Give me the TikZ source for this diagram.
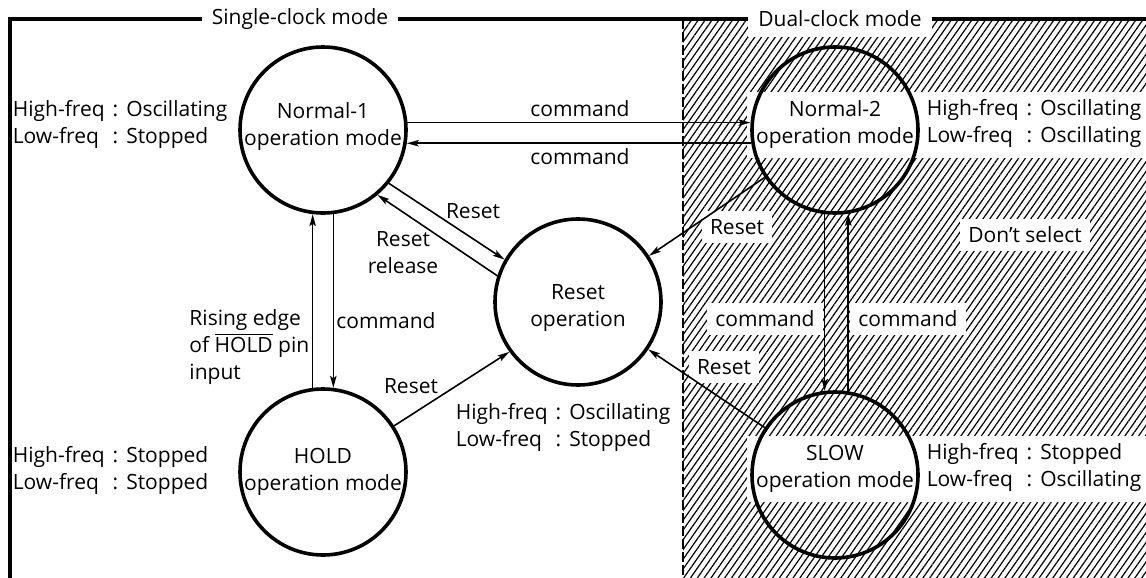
\documentclass[tikz,border=0pt]{standalone}
\usepackage{fontspec}
\setmainfont{Open Sans}
\usetikzlibrary{arrows.meta,patterns.meta,backgrounds}

\begin{document}
\begin{tikzpicture}[x=0.5pt, y=-0.5pt, thick, font=\fontsize{10.5}{13.5}\selectfont,
  main/.style = {circle, draw, line width=1.8pt, minimum size=83pt, inner sep=0pt},
  txt/.style = {align=center, inner sep=4pt},
  freq/.style = {anchor=west, inner sep=3pt},
  lbl/.style = {fill=white, inner sep=4pt},
  arr/.style = {-{Stealth[length=6pt,width=3.2pt,inset=1.2pt]}}]
\useasboundingbox (0,0) rectangle (1146,578);

% frame and mode regions
\draw[line width=1.6pt] (10,578) -- (10,19) -- (1146,19);
\draw[line width=1.1pt, dash pattern=on 5pt off 1.5pt] (683,19) -- (683,578);
\node[fill=white, inner sep=5pt] (sc) at (300,19) {Single-clock mode};
\node[fill=white, inner sep=5pt] (dc) at (840,19) {Dual-clock mode};

% operation modes
\node[main] (1) at (323,130) {};
\node[main] (2) [right of=1, node distance=256pt] {};
\node[main] (3) at (578,302) {};
\node[main] (4) [below of=1, node distance=171pt] {};
\node[main] (5) [below of=2, node distance=172.5pt] {};

\node[txt] (t1) at ([yshift=1.7pt]1) {Normal-1\\operation mode};
\node[txt] (t2) at ([yshift=2.7pt]2) {Normal-2\\operation mode};
\node[txt] (t3) at ([yshift=-3.2pt]3) {Reset\\operation};
\node[txt] (t4) at ([yshift=-0.2pt]4) {HOLD\\operation mode};
\node[txt] (t5) at ([yshift=3.2pt]5) {SLOW\\operation mode};

% clock states
\node[freq] (f1) at (6,125) {\begin{tabular}{@{}l@{\hspace{4pt}:\hspace{4pt}}l@{}}High-freq & Oscillating\\Low-freq & Stopped\end{tabular}};
\node[freq] (f2) at (920,124) {\begin{tabular}{@{}l@{\hspace{4pt}:\hspace{4pt}}l@{}}High-freq & Oscillating\\Low-freq & Oscillating\end{tabular}};
\node[freq] (f3) at (449,428) {\begin{tabular}{@{}l@{\hspace{4pt}:\hspace{4pt}}l@{}}High-freq & Oscillating\\Low-freq & Stopped\end{tabular}};
\node[freq] (f4) at (6,471) {\begin{tabular}{@{}l@{\hspace{4pt}:\hspace{4pt}}l@{}}High-freq & Stopped\\Low-freq & Stopped\end{tabular}};
\node[freq] (f5) at (920,468) {\begin{tabular}{@{}l@{\hspace{4pt}:\hspace{4pt}}l@{}}High-freq & Stopped\\Low-freq & Oscillating\end{tabular}};

% labels
\node (c1) at (580,109) {command};
\node (c2) at (580,157) {command};
\node[align=left, anchor=west] (re) at (182,347) {Rising edge\\of $\overline{\mbox{HOLD}}$ pin\\input};
\node (c3) at (386,321) {command};
\node (r1) at (473,211) {Reset};
\node[align=center] (rr) at (403,253) {Reset\\release};
\node (r2) at (411,386) {Reset};
\node[lbl] (r3) at (737,227) {Reset};
\node[lbl] (r4) at (724,367) {Reset};
\node[lbl] (c4) at (765,319) {command};
\node[lbl] (c5) at (908,319) {command};
\node[lbl] (ds) at (1025,235) {Don't select};

% transitions
\draw[arr] (1.5) -- (2.175);
\draw[arr] (2.189) -- (1.-9);
\draw[arr] (4.97) -- (1.-97);
\draw[arr] (1.-83) -- (4.83);
\draw[arr] (1.-39) -- (3.150);
\draw[arr] (3.162) -- (1.-50);
\draw[arr] (4.33) -- (3.216);
\draw[arr] (2.214) -- (3.33);
\draw[arr] (5.146) -- (3.-34);
\draw[arr] (2.-97) -- (5.97);
\draw[arr] (5.81) -- (2.-81);

% hatched dual-clock area
\begin{scope}[on background layer]
\fill[pattern={Lines[angle=55,distance=2.8pt,line width=0.6pt]}] (683,19) rectangle (1146,578);
\fill[white] (t2.north west) rectangle ([xshift=30pt]f2.south east);
\fill[white] (t5.north west) rectangle ([xshift=30pt]f5.south east);
\end{scope}
\end{tikzpicture}
\end{document}
